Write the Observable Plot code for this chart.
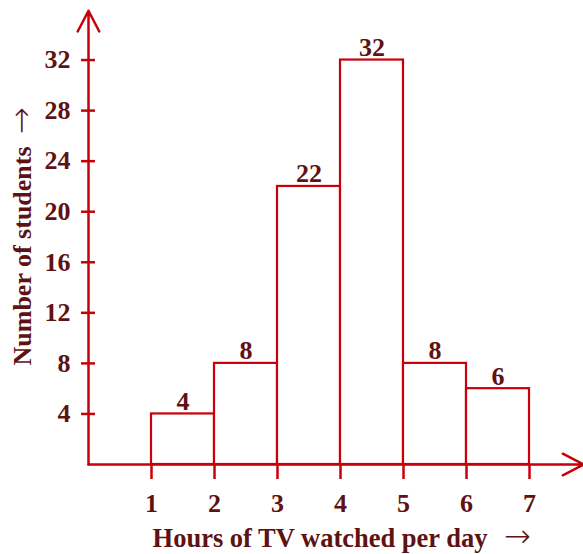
<!DOCTYPE html>
<html>
<head>
<meta charset="utf-8">
<script src="https://cdn.jsdelivr.net/npm/d3@7"></script>
<script src="https://cdn.jsdelivr.net/npm/@observablehq/plot@0.6"></script>
<style>
  html, body { margin: 0; padding: 0; background: #fff; }
  svg { display: block; }
</style>
</head>
<body>
<div id="chart"></div>
<script>
// Data
const binStart = [1, 2, 3, 4, 5, 6];
const binEnd   = [2, 3, 4, 5, 6, 7];
const students = [4, 8, 22, 32, 8, 6];
const xTicks = [1, 2, 3, 4, 5, 6, 7];
const yTicks = [4, 8, 12, 16, 20, 24, 28, 32];
const xTitle = "Hours of TV watched per day";
const yTitle = "Number of students";
const arrowGlyph = "\u2192";

const bars = binStart.map((s, i) => ({x1: s, x2: binEnd[i], y: students[i]}));

const LINE = "#c8000a";
const TEXT = "#5e1212";
const FONT = "'Liberation Serif', 'Times New Roman', serif";
const ARROWFONT = "'DejaVu Sans', sans-serif";

const chart = Plot.plot({
  width: 583,
  height: 554,
  marginLeft: 88,
  marginRight: 0,
  marginTop: 9,
  marginBottom: 90,
  style: {fontFamily: FONT, fontSize: "26px", fontWeight: "bold", background: "#fff", overflow: "visible"},
  x: {domain: [0, 7.857]},
  y: {domain: [0, 36]},
  marks: [
    Plot.rectY(bars, {x1: "x1", x2: "x2", y: "y", fill: "#fff", stroke: LINE, strokeWidth: 2.2}),
    Plot.text(bars, {x: d => (d.x1 + d.x2) / 2, y: "y", text: d => String(d.y), lineAnchor: "bottom", dy: -4, fill: TEXT, fontSize: 26, fontWeight: "bold"}),
    // axes lines with open arrowheads
    Plot.arrow([{x1: 0, y1: 0, x2: 7.857, y2: 0}], {x1: "x1", y1: "y1", x2: "x2", y2: "y2", stroke: LINE, strokeWidth: 2.5, headLength: 14, headAngle: 55, bend: 0}),
    Plot.arrow([{x1: 0, y1: 0, x2: 0, y2: 35.9}], {x1: "x1", y1: "y1", x2: "x2", y2: "y2", stroke: LINE, strokeWidth: 2.5, headLength: 14, headAngle: 55, bend: 0}),
    // y ticks crossing the axis
    Plot.ruleY(yTicks, {y: d => d, x1: 0, x2: 0, insetLeft: -7, insetRight: -7, stroke: LINE, strokeWidth: 2.5}),
    Plot.axisY({ticks: yTicks, tickSize: 0, tickPadding: 18, label: null, fill: TEXT, fontSize: 26, fontWeight: "bold"}),
    // x ticks going down
    Plot.axisX({ticks: xTicks, tickSize: 15, tickPadding: 14, label: null, stroke: LINE, strokeWidth: 2.5, fill: TEXT, fontSize: 26, fontWeight: "bold", tickFormat: d => String(d)}),
    // titles
    Plot.text([xTitle], {frameAnchor: "bottom", dx: 151.5, dy: 74, textAnchor: "end", lineAnchor: "middle", text: d => d, fill: TEXT, fontSize: 26.5, fontWeight: "bold"}),
    Plot.text([arrowGlyph], {frameAnchor: "bottom", dx: 168, dy: 72, textAnchor: "start", lineAnchor: "middle", text: d => d, fill: TEXT, fontSize: 32, fontWeight: 200, fontFamily: ARROWFONT}),
    Plot.text([yTitle], {frameAnchor: "left", dx: -66, dy: 128.5, rotate: -90, textAnchor: "start", lineAnchor: "middle", text: d => d, fill: TEXT, fontSize: 26, fontWeight: "bold"}),
    Plot.text([arrowGlyph], {frameAnchor: "left", dx: -67, dy: -103, rotate: -90, textAnchor: "start", lineAnchor: "middle", text: d => d, fill: TEXT, fontSize: 32, fontWeight: 200, fontFamily: ARROWFONT})
  ]
});
document.getElementById("chart").appendChild(chart);
</script>
</body>
</html>
